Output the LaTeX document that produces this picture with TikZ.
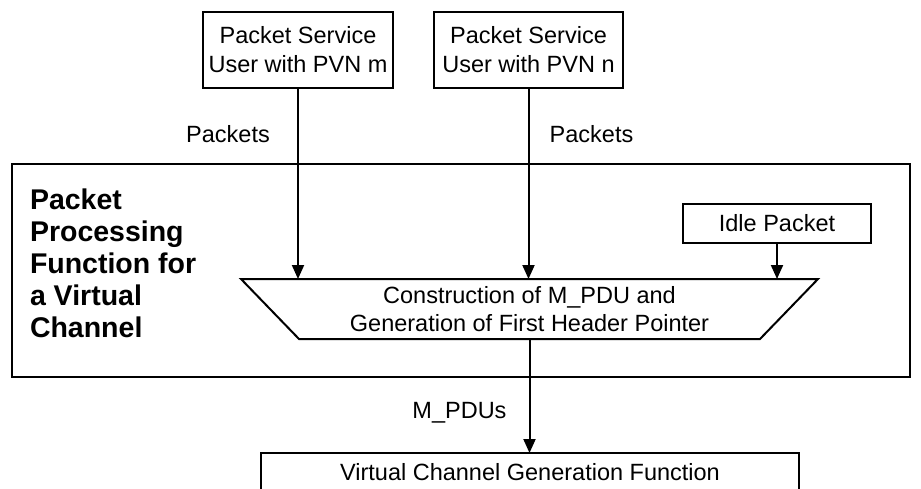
\documentclass[tikz,border=0pt]{standalone}
\usepackage{fontspec}
\setmainfont{Liberation Sans}
\usetikzlibrary{arrows.meta,positioning}

\begin{document}
\begin{tikzpicture}[x=1pt,y=-1pt,line width=2pt,
  box/.style={draw,rectangle,inner sep=0pt,align=center,font=\fontsize{23.5}{29}\selectfont},
  lbl/.style={inner sep=0pt,align=center,font=\fontsize{23.5}{28}\selectfont},
  flow/.style={-{Triangle[width=12pt,length=14pt]}}]
\useasboundingbox (0,0) rectangle (921,489);
\node[draw,minimum width=898,minimum height=213] (vcframe) at (461,270.5) {};
\node[anchor=north west,inner sep=0pt,align=left,font=\fontsize{28.5}{32}\selectfont\bfseries] (title) at (29,188) {Packet\\Processing\\Function for\\a Virtual\\Channel};
\node[box,minimum width=190,minimum height=76] (userm) at (298,50) {Packet Service\\User with PVN m};
\node[box,minimum width=189,minimum height=76] (usern) at (528.5,50) {Packet Service\\User with PVN n};
\node[box,minimum width=188,minimum height=39] (idle) at (777,223.5) {Idle Packet};
\node[lbl,minimum width=575,minimum height=58] (cons) at (529.5,309) {Construction of M\_PDU and\\Generation of First Header Pointer};
\draw (cons.north west) -- (cons.north east) -- ([xshift=-58pt]cons.south east) -- ([xshift=58pt]cons.south west) -- cycle;
\node[lbl,minimum width=536,minimum height=36,anchor=north] (vcgf) at (530,453) {Virtual Channel Generation Function};
\node[lbl] (lblm) at (228,134) {Packets};
\node[lbl] (lbln) at (591.5,134) {Packets};
\node[lbl] (lblpdu) at (459.5,413) {M\_PDUs};
\draw[flow] (userm) -- (userm |- cons.north);
\draw[flow] (usern) -- (usern |- cons.north);
\draw[flow] (idle) -- (idle |- cons.north);
\draw[flow] (cons.south) -- (cons.south |- vcgf.north);
\draw ([yshift=-20pt]vcgf.south west) -- (vcgf.north west) -- (vcgf.north east) -- ([yshift=-20pt]vcgf.south east);
\end{tikzpicture}
\end{document}
